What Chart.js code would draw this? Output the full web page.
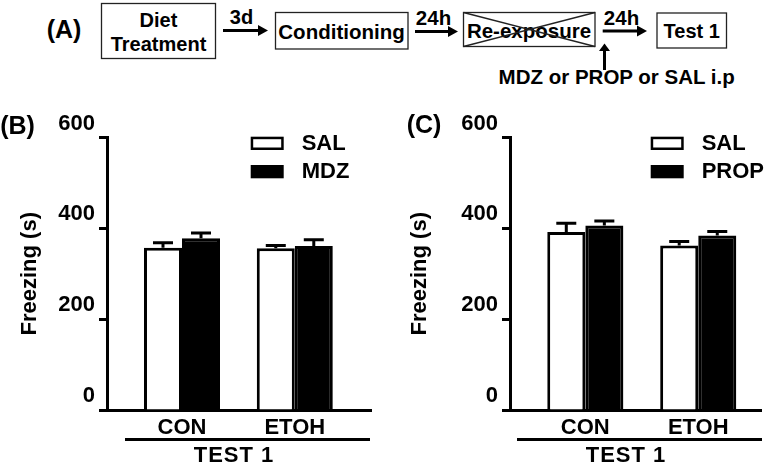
<!DOCTYPE html>
<html>
<head>
<meta charset="utf-8">
<script src="https://cdn.jsdelivr.net/npm/chart.js@4.4.0/dist/chart.umd.min.js"></script>
<style>
  body { margin: 0; background: #fff; }
  #wrap { position: relative; width: 778px; height: 464px; overflow: hidden; background: #fff;
          font-family: "Liberation Sans", Arial, sans-serif; font-weight: bold; color: #000; }
  .abs { position: absolute; }
  .lbl { position: absolute; line-height: 1; transform: translate(-50%, -50%); white-space: nowrap; }
  .rule { position: absolute; height: 3px; background: #000; }
</style>
</head>
<body>
<div id="wrap">
  <svg class="abs" style="left:0;top:0" width="778" height="100"
       font-family="Liberation Sans, Arial, sans-serif" font-weight="bold" text-anchor="middle">
    <text x="64" y="29" font-size="25" dominant-baseline="central">(A)</text>

    <rect x="101.5" y="3.5" width="114" height="55" fill="none" stroke="#222" stroke-width="1.3"/>
    <text x="158.5" y="20" font-size="20" dominant-baseline="central">Diet</text>
    <text x="158.5" y="44" font-size="20" dominant-baseline="central">Treatment</text>

    <line x1="223" y1="30.5" x2="260" y2="30.5" stroke="#000" stroke-width="3"/>
    <polygon points="268,30.5 258,25 258,36" fill="#000"/>
    <text x="241.5" y="17" font-size="20" dominant-baseline="central">3d</text>

    <rect x="275.5" y="12.5" width="132.5" height="36.5" fill="none" stroke="#222" stroke-width="1.3"/>
    <text x="341.5" y="31" font-size="20.5" dominant-baseline="central">Conditioning</text>

    <line x1="415" y1="31.5" x2="450" y2="31.5" stroke="#000" stroke-width="3"/>
    <polygon points="458,31.5 448,26 448,37" fill="#000"/>
    <text x="433.5" y="17" font-size="20.5" dominant-baseline="central">24h</text>

    <rect x="463.5" y="12.5" width="131.5" height="34" fill="none" stroke="#222" stroke-width="1.3"/>
    <text x="529" y="30.5" font-size="20.5" dominant-baseline="central">Re-exposure</text>
    <line x1="463.5" y1="12.5" x2="595" y2="46.5" stroke="#222" stroke-width="1.3"/>
    <line x1="463.5" y1="46.5" x2="595" y2="12.5" stroke="#222" stroke-width="1.3"/>

    <line x1="602.7" y1="31" x2="639" y2="31" stroke="#000" stroke-width="3"/>
    <polygon points="647,31 637,25.5 637,36.5" fill="#000"/>
    <text x="621.5" y="17" font-size="20.5" dominant-baseline="central">24h</text>

    <rect x="657" y="13" width="69.5" height="35" fill="none" stroke="#222" stroke-width="1.3"/>
    <text x="691.7" y="31" font-size="20" dominant-baseline="central">Test 1</text>

    <line x1="604.5" y1="70" x2="604.5" y2="50" stroke="#000" stroke-width="3"/>
    <polygon points="604.5,43.5 599,51 610,51" fill="#000"/>
    <text x="616.7" y="76" font-size="20.5" dominant-baseline="central">MDZ or PROP or SAL i.p</text>
  </svg>

  <div class="abs" style="left:0;top:100px"><canvas id="chartB" width="390" height="364"></canvas></div>
  <div class="abs" style="left:390px;top:100px"><canvas id="chartC" width="388" height="364"></canvas></div>

  <div class="lbl" style="left:17.5px;top:125px;font-size:25px">(B)</div>
  <div class="lbl" style="left:424px;top:124px;font-size:25px">(C)</div>

  <div class="rule" style="left:125px;top:438px;width:245px"></div>
  <div class="lbl" style="left:234px;top:455px;font-size:22px;letter-spacing:1px">TEST 1</div>
  <div class="rule" style="left:517px;top:438px;width:245px"></div>
  <div class="lbl" style="left:626px;top:455px;font-size:22px;letter-spacing:1px">TEST 1</div>
</div>

<script>
const categories = ["CON", "ETOH"];
const yTicks = [0, 200, 400, 600];

// panel B: saline vs midazolam
const salB = [357, 356];
const salBErr = [11, 6];
const mdzB = [378, 361];
const mdzBErr = [12, 14];

// panel C: saline vs propranolol
const salC = [392, 362];
const salCErr = [19, 9];
const propC = [406, 384];
const propCErr = [10, 9];

const FONT = '"Liberation Sans", Arial, sans-serif';

// upward-only SEM bars with a cap
const errorBars = {
  id: "errorBars",
  afterDatasetsDraw(chart) {
    const ctx = chart.ctx;
    const y = chart.scales.y;
    ctx.save();
    ctx.strokeStyle = "#000";
    ctx.lineWidth = 3;
    chart.data.datasets.forEach((ds, di) => {
      chart.getDatasetMeta(di).data.forEach((bar, i) => {
        const top = y.getPixelForValue(ds.data[i].y + ds.errors[i]);
        ctx.beginPath();
        ctx.moveTo(bar.x, bar.y);
        ctx.lineTo(bar.x, top);
        ctx.moveTo(bar.x - 10, top);
        ctx.lineTo(bar.x + 10, top);
        ctx.stroke();
      });
    });
    ctx.restore();
  }
};

// legend drawn inside the plot, boxes stacked
const boxLegend = {
  id: "boxLegend",
  afterDraw(chart, args, opts) {
    const ctx = chart.ctx;
    ctx.save();
    ctx.font = `bold 22px ${FONT}`;
    ctx.textBaseline = "middle";
    chart.data.datasets.forEach((ds, i) => {
      const x = opts.x, y = opts.y + i * 28.3;
      ctx.fillStyle = "#000";
      ctx.fillRect(x, y, 33, 13.3);
      if (ds.backgroundColor !== "#000") {
        ctx.fillStyle = ds.backgroundColor;
        ctx.fillRect(x + 2.5, y + 2.5, 28, 8.3);
      }
      ctx.fillStyle = "#000";
      ctx.fillText(ds.label, x + 51, y + 7);
    });
    ctx.restore();
  }
};

function makeChart(id, series, lay) {
  return new Chart(document.getElementById(id), {
    type: "bar",
    data: {
      datasets: series.map(s => ({
        label: s.label,
        data: categories.map((c, i) => ({ x: i + 1, y: s.values[i] })),
        errors: s.errors,
        backgroundColor: s.fill,
        borderColor: "#000",
        borderWidth: 3,
        categoryPercentage: 0.674,
        barPercentage: 1
      }))
    },
    options: {
      responsive: false,
      animation: false,
      events: [],
      layout: { padding: { top: 37.5, right: lay.right, left: 0, bottom: 0 } },
      plugins: {
        legend: { display: false },
        tooltip: { enabled: false },
        boxLegend: { x: lay.legendX, y: 36.7 }
      },
      scales: {
        x: {
          type: "linear",
          offset: false,
          min: lay.xMin,
          max: lay.xMax,
          grid: { display: false, drawTicks: false },
          border: { display: true, color: "#000", width: 3 },
          afterBuildTicks: s => { s.ticks = categories.map((c, i) => ({ value: i + 1 })); },
          afterFit: s => { s.height = 54; },
          ticks: {
            color: "#000",
            font: { family: FONT, weight: "bold", size: 22 },
            padding: 5,
            maxRotation: 0,
            autoSkip: false,
            callback: v => categories[v - 1]
          }
        },
        y: {
          min: 0,
          max: 600,
          afterBuildTicks: s => { s.ticks = yTicks.map(v => ({ value: v })); },
          afterFit: s => { s.width = lay.left; },
          grid: { drawOnChartArea: false, drawTicks: true, tickLength: 8, tickWidth: 3, tickColor: "#000" },
          border: { display: true, color: "#000", width: 3 },
          ticks: {
            color: "#000",
            font: { family: FONT, weight: "bold", size: 22 },
            padding: 4,
            labelOffset: -14
          },
          title: {
            display: true,
            text: "Freezing (s)",
            color: "#000",
            font: { family: FONT, weight: "bold", size: 22 },
            padding: { top: 17, bottom: 0 }
          }
        }
      }
    },
    plugins: [errorBars, boxLegend]
  });
}

makeChart("chartB", [
  { label: "SAL", values: salB, errors: salBErr, fill: "#fff" },
  { label: "MDZ", values: mdzB, errors: mdzBErr, fill: "#000" }
], { left: 107, right: 18.3, xMin: 0.335, xMax: 2.682, legendX: 250.7 });

makeChart("chartC", [
  { label: "SAL", values: salC, errors: salCErr, fill: "#fff" },
  { label: "PROP", values: propC, errors: propCErr, fill: "#000" }
], { left: 120, right: 16.3, xMin: 0.333, xMax: 2.562, legendX: 260.7 });
</script>
</body>
</html>
